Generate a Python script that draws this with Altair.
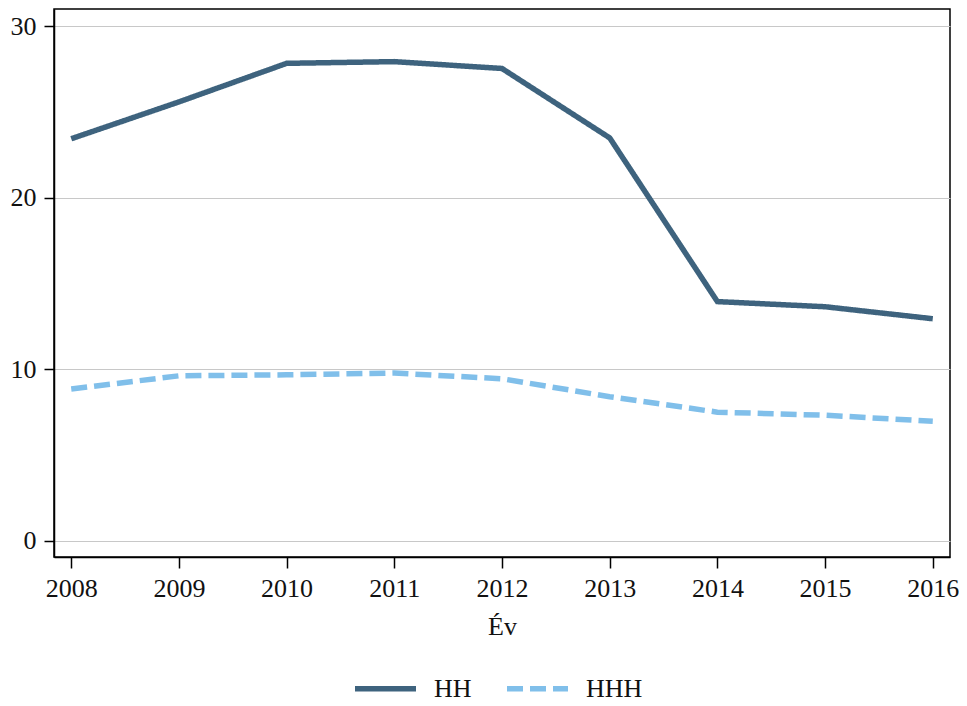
import altair as alt
import pandas as pd

years = [2008, 2009, 2010, 2011, 2012, 2013, 2014, 2015, 2016]
hh = [23.45, 25.6, 27.85, 27.95, 27.55, 23.5, 13.95, 13.65, 12.95]
hhh = [8.85, 9.62, 9.68, 9.78, 9.45, 8.4, 7.5, 7.32, 6.97]
series_names = ["HH", "HHH"]
colors = ["#3e637e", "#80bfea"]

rows = []
for y, a, b in zip(years, hh, hhh):
    rows.append({"Év": y, "value": a, "series": series_names[0]})
    rows.append({"Év": y, "value": b, "series": series_names[1]})
df = pd.DataFrame(rows)

FONT = "'Liberation Serif', 'Times New Roman', Times, serif"

chart = alt.Chart(df).mark_line(strokeWidth=5.5, strokeCap="butt", strokeJoin="miter").encode(
    x=alt.X("Év:Q",
            scale=alt.Scale(domain=[2007.84, 2016.16], nice=False, zero=False),
            axis=alt.Axis(values=years, format="d", grid=False, tickSize=11,
                          labelPadding=7, titlePadding=12, labelFontSize=26,
                          titleFontSize=26, titleFontWeight="normal")),
    y=alt.Y("value:Q",
            scale=alt.Scale(domain=[-0.95, 31.02], nice=False, zero=False),
            axis=alt.Axis(values=[0, 10, 20, 30], title=None, grid=True, tickSize=10,
                          labelPadding=8, labelFontSize=26)),
    color=alt.Color("series:N", scale=alt.Scale(domain=series_names, range=colors),
                    legend=alt.Legend(title=None, orient="none", direction="horizontal",
                                      legendX=298, legendY=646,
                                      symbolType="stroke", symbolSize=3721,
                                      symbolStrokeWidth=5.5, labelFontSize=26,
                                      labelOffset=15, columnPadding=24)),
    strokeDash=alt.StrokeDash("series:N",
                              scale=alt.Scale(domain=series_names, range=[[1, 0], [16, 7]]),
                              legend=None),
).properties(
    width=896, height=548,
    autosize=alt.AutoSizeParams(type="none"),
    padding={"left": 46, "top": 1, "right": 9, "bottom": 150},
).configure(
    font=FONT,
).configure_axis(
    labelFont=FONT, titleFont=FONT, labelColor="#111111", titleColor="#111111",
    domainColor="#000000", domainWidth=1.5, tickColor="#000000", tickWidth=1.5,
    gridColor="#c8c8c8", gridWidth=1,
).configure_legend(
    labelFont=FONT, labelColor="#111111",
).configure_view(
    stroke="#000000", strokeWidth=1.5,
)

chart.save("out.html", embed_options={"renderer": "svg", "actions": False})
